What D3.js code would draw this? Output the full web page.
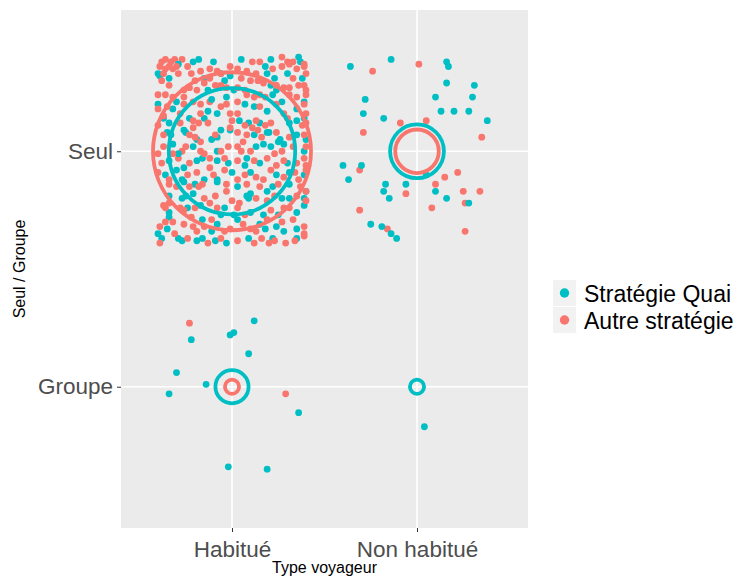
<!DOCTYPE html>
<html><head><meta charset="utf-8">
<script src="https://cdn.jsdelivr.net/npm/d3@7"></script>
<style>
html,body{margin:0;padding:0;background:#fff;}
text{font-family:"Liberation Sans",Arial,sans-serif;}
</style></head>
<body>
<svg id="chart" width="737" height="576"></svg>
<script>
// ---------- data ----------
const types = ["Habitué", "Non habitué"];          // x categories (1, 2)
const groups = ["Groupe", "Seul"];                 // y categories (1, 2)
const strategies = ["Stratégie Quai", "Autre stratégie"];

// observation counts per cell: [Habitué-Seul, Non habitué-Seul, Habitué-Groupe, Non habitué-Groupe]
const countsQuai  = [160, 29, 11, 2];
const countsAutre = [250, 19, 2, 0];

// jittered observations: [x offset, y offset] in category units around each cell centre
const quaiHabSeul = [[-0.21,0.38],[-0.18,0.39],[-0.10,0.38],[0.21,0.39],[0.36,0.40],[0.37,0.38],[-0.40,0.33],[-0.34,0.31],[-0.39,0.32],[0.18,0.36],[0.19,0.33],[-0.06,0.33],[-0.04,0.30],[-0.15,0.31],[-0.13,0.26],[-0.07,0.27],[-0.03,0.23],[0.01,0.26],[0.21,0.28],[0.22,0.24],[0.24,0.26],[0.38,0.31],[0.39,0.21],[-0.13,0.17],[-0.08,0.16],[0.07,0.20],[0.12,0.19],[0.19,0.17],[0.27,0.21],[0.35,0.18],[0.39,0.14],[-0.40,0.20],[-0.23,0.14],[-0.30,0.21],[-0.32,0.18],[0.23,0.31],[-0.01,0.32],
[-0.37,0.14],[-0.34,0.12],[-0.26,0.09],[-0.15,0.14],[-0.06,0.09],[0.09,0.12],[0.15,0.12],[0.19,0.08],[0.31,0.12],[0.35,0.13],[-0.35,0.08],[-0.33,0.07],[-0.25,0.08],[-0.19,0.05],[-0.11,0.05],[-0.08,0.06],[-0.01,0.09],[0.12,0.07],[0.20,0.08],[0.26,0.05],[0.35,0.07],[0.40,0.05],[-0.32,0.03],[-0.21,0.02],[-0.08,0.00],[0.13,0.02],[0.17,0.03],[0.21,0.02],[0.25,0.04],[0.28,0.03],[0.39,0.00],[-0.34,-0.04],[-0.26,-0.07],[-0.19,-0.04],[-0.16,-0.03],[-0.08,-0.04],[-0.02,-0.05],[0.08,-0.03],[0.15,-0.05],[0.30,-0.05],[-0.36,-0.10],[-0.30,-0.08],[-0.27,-0.12],[-0.15,-0.12],[-0.08,-0.12],[0.00,-0.09],[0.10,-0.09],[0.24,-0.10],[0.31,-0.09],[0.39,-0.10],
[-0.26,-0.13],[-0.08,-0.13],[0.03,-0.15],[0.22,-0.15],[0.31,-0.14],[0.40,-0.17],[-0.34,-0.19],[-0.27,-0.20],[-0.25,-0.19],[-0.21,-0.18],[0.08,-0.19],[0.10,-0.18],[0.09,-0.20],[0.19,-0.17],[0.27,-0.20],[0.31,-0.20],[0.39,-0.20],[-0.34,-0.26],[-0.34,-0.28],[-0.24,-0.24],[-0.17,-0.23],[-0.04,-0.24],[0.01,-0.27],[0.10,-0.26],[0.17,-0.27],[0.35,-0.26],[0.39,-0.23],[-0.16,-0.29],[-0.08,-0.31],[-0.11,-0.34],[0.03,-0.29],[0.18,-0.33],[0.24,-0.32],[0.35,-0.33],[-0.40,-0.35],[-0.38,-0.37],[-0.29,-0.37],[-0.27,-0.38],[-0.19,-0.38],[-0.16,-0.37],[-0.09,-0.38],[-0.03,-0.39],[0.09,-0.37],[0.28,-0.34],[0.35,-0.37],
[-0.29,0.37],[0.05,0.39],[0.30,0.33],[-0.11,0.22],[0.04,0.13],[-0.29,-0.01],[0.07,-0.06],[-0.20,-0.14],[0.25,-0.27],[-0.06,-0.27],[0.15,-0.31],[-0.35,-0.33],[0.22,-0.37]];

const autreHabSeul = [[-0.36,0.39],[-0.31,0.39],[-0.27,0.39],[0.11,0.38],[0.15,0.38],[0.27,0.40],[0.30,0.38],[0.33,0.38],[0.39,0.36],[-0.39,0.36],[-0.36,0.35],[-0.34,0.36],[-0.37,0.33],[-0.32,0.35],[-0.17,0.34],[-0.22,0.33],[-0.12,0.35],[-0.08,0.34],[-0.06,0.33],[-0.01,0.36],[0.03,0.35],[0.08,0.34],[0.13,0.33],[0.27,0.36],[0.31,0.37],[0.35,0.35],[0.39,0.37],[0.40,0.33],[-0.12,0.31],[-0.15,0.29],[-0.26,0.26],[-0.23,0.27],[-0.19,0.26],[-0.09,0.28],[-0.06,0.28],[0.03,0.27],[0.07,0.26],[0.10,0.30],[0.24,0.28],[0.28,0.27],[0.31,0.27],[0.36,0.28],[0.39,0.28],[0.40,0.26],[-0.40,0.24],[-0.36,0.24],[-0.32,0.23],[-0.26,0.23],[-0.21,0.21],[-0.17,0.20],[-0.12,0.21],[-0.06,0.19],[-0.03,0.20],[0.03,0.21],[0.08,0.24],[0.12,0.23],[0.15,0.24],[0.18,0.23],[0.31,0.24],[0.35,0.23],[0.40,0.24],[-0.40,0.18],[-0.35,0.19],[-0.37,0.15],[-0.26,0.20],[-0.17,0.16],[-0.01,0.16],[0.15,0.19],[0.24,0.20],[0.28,0.16],[0.39,0.20],[0.40,0.16],[-0.28,0.16],[0.03,0.16],[-0.34,0.28],[-0.29,0.33],[0.17,0.29],
[-0.40,0.11],[-0.28,0.12],[-0.21,0.13],[-0.18,0.12],[-0.13,0.12],[-0.01,0.10],[0.07,0.11],[0.11,0.10],[0.13,0.13],[0.18,0.11],[0.21,0.12],[0.30,0.14],[0.38,0.11],[0.40,0.12],[-0.37,0.07],[-0.23,0.07],[-0.20,0.06],[-0.17,0.04],[0.03,0.08],[0.08,0.07],[0.14,0.09],[0.16,0.06],[0.24,0.08],[0.31,0.06],[0.39,0.07],[-0.40,-0.01],[-0.37,0.02],[-0.27,0.00],[-0.25,0.02],[-0.17,0.00],[-0.15,-0.01],[-0.06,0.00],[-0.02,0.02],[0.03,0.02],[0.05,0.00],[0.10,0.00],[0.33,0.02],[0.40,0.02],[-0.38,-0.05],[-0.29,-0.03],[-0.23,-0.05],[-0.12,-0.03],[-0.04,-0.03],[0.03,-0.04],[0.12,-0.04],[0.19,-0.03],[0.24,-0.06],[0.28,-0.04],[0.35,-0.05],[0.39,-0.03],[0.40,-0.06],[-0.40,-0.09],[-0.34,-0.12],[-0.24,-0.10],[-0.19,-0.09],[-0.10,-0.10],[-0.04,-0.08],[0.03,-0.12],[0.07,-0.10],[0.13,-0.11],[0.17,-0.12],[0.21,-0.08],[0.28,-0.11],[0.36,-0.12],[0.40,-0.08],[-0.32,-0.01],[-0.12,-0.07],[-0.21,0.10],[0.27,0.00],
[-0.34,-0.14],[-0.23,-0.15],[-0.18,-0.15],[-0.16,-0.14],[-0.03,-0.14],[0.08,-0.14],[0.15,-0.15],[0.25,-0.14],[0.37,-0.15],[-0.15,-0.20],[-0.09,-0.19],[-0.03,-0.17],[0.04,-0.22],[0.13,-0.20],[0.23,-0.19],[0.35,-0.19],[0.40,-0.17],[-0.37,-0.23],[-0.36,-0.24],[-0.28,-0.24],[-0.26,-0.25],[-0.20,-0.24],[-0.12,-0.22],[-0.08,-0.24],[0.03,-0.24],[0.07,-0.27],[0.21,-0.25],[0.28,-0.24],[0.31,-0.24],[0.40,-0.21],[-0.39,-0.32],[-0.32,-0.30],[-0.26,-0.31],[-0.21,-0.32],[-0.15,-0.32],[-0.11,-0.29],[-0.04,-0.34],[-0.01,-0.33],[0.10,-0.33],[0.13,-0.34],[0.27,-0.30],[0.33,-0.29],[0.39,-0.32],[0.39,-0.35],[-0.39,-0.39],[-0.31,-0.35],[-0.24,-0.37],[-0.13,-0.39],[-0.06,-0.37],[0.03,-0.38],[0.12,-0.39],[0.20,-0.39],[0.23,-0.38],[0.29,-0.39],[0.39,-0.36],[-0.19,-0.34],[0.19,-0.29],[-0.34,-0.22],
[-0.38,0.38],[-0.33,0.38],[-0.30,0.36],[-0.38,0.30],[-0.24,0.36],[-0.20,0.30],[0.05,0.31],[0.14,0.30],[0.33,0.31],[0.22,0.35],[-0.03,0.27],[0.00,0.13],[-0.09,0.07],[0.06,0.04],[0.23,-0.01],[0.34,-0.09],[-0.30,-0.15],[0.19,-0.21],[0.00,-0.21],[-0.22,-0.28],[0.06,-0.31],[0.16,-0.37],[-0.36,-0.30],[0.34,-0.38]];

const quaiNonSeul = [[-0.36,0.36],[-0.14,0.39],[0.16,0.38],[0.17,0.36],[0.16,0.29],[0.31,0.28],[0.10,0.23],[0.30,0.23],[-0.28,0.22],[-0.29,0.16],[-0.18,0.14],[0.13,0.17],[0.20,0.17],[0.28,0.17],[0.38,0.13],[-0.40,-0.06],[-0.30,-0.06],[-0.37,-0.12],[-0.17,-0.14],[-0.18,-0.17],[-0.15,-0.20],[-0.06,-0.14],[0.10,-0.17],[0.28,-0.22],[0.16,-0.20],[-0.25,-0.31],[-0.19,-0.32],[-0.14,-0.35],[-0.11,-0.37],[0.05,-0.10]];
const autreNonSeul = [[-0.24,0.34],[0.01,0.37],[-0.09,0.12],[0.05,0.13],[-0.29,0.08],[0.35,0.06],[-0.31,-0.08],[-0.06,-0.18],[0.10,-0.14],[0.15,-0.11],[0.22,-0.09],[0.25,-0.17],[0.34,-0.17],[0.26,-0.22],[0.08,-0.24],[-0.31,-0.25],[-0.16,-0.33],[0.26,-0.34]];

const quaiHabGroupe = [[0.12,0.28],[0.01,0.23],[-0.01,0.22],[-0.22,0.20],[0.09,0.14],[-0.30,0.06],[-0.14,0.01],[-0.34,-0.03],[0.36,-0.11],[-0.02,-0.34],[0.19,-0.35]];
const autreHabGroupe = [[-0.23,0.27],[0.29,-0.03]];

const quaiNonGroupe = [[0.04,-0.17]];
const autreNonGroupe = [];

// ---------- layout ----------
const colQuai = "#00BFC4", colAutre = "#F8766D";
const panel = {left: 121, right: 528, top: 10, bottom: 528};

const svg = d3.select("#chart");
const x = d3.scaleLinear().domain([0.4, 2.6]).range([panel.left, panel.right]);
const y = d3.scaleLinear().domain([0.4, 2.6]).range([panel.bottom, panel.top]);
const rScale = d3.scaleSqrt().domain([0, 250]).range([0, 79]);

// cell table built from the arrays above
const cells = [
  {t: 0, g: 1, quai: quaiHabSeul,   autre: autreHabSeul,   nq: countsQuai[0], na: countsAutre[0]},
  {t: 1, g: 1, quai: quaiNonSeul,   autre: autreNonSeul,   nq: countsQuai[1], na: countsAutre[1]},
  {t: 0, g: 0, quai: quaiHabGroupe, autre: autreHabGroupe, nq: countsQuai[2], na: countsAutre[2]},
  {t: 1, g: 0, quai: quaiNonGroupe, autre: autreNonGroupe, nq: countsQuai[3], na: countsAutre[3]}
];

// panel background
svg.append("rect")
  .attr("x", panel.left).attr("y", panel.top)
  .attr("width", panel.right - panel.left).attr("height", panel.bottom - panel.top)
  .attr("fill", "#EBEBEB");

// grid lines
const grid = svg.append("g");
[1, 2].forEach(v => {
  grid.append("line").attr("x1", x(v)).attr("x2", x(v))
    .attr("y1", panel.top).attr("y2", panel.bottom)
    .attr("stroke", "#fff").attr("stroke-width", 1.6);
  grid.append("line").attr("y1", y(v)).attr("y2", y(v))
    .attr("x1", panel.left).attr("x2", panel.right)
    .attr("stroke", "#fff").attr("stroke-width", 1.6);
});

// points (interleaved so both colours mix like the original)
const pts = [];
cells.forEach(c => {
  const n = Math.max(c.quai.length, c.autre.length);
  for (let i = 0; i < n; i++) {
    if (i < c.autre.length) pts.push({cx: c.t + 1 + c.autre[i][0], cy: c.g + 1 + c.autre[i][1], col: colAutre});
    if (i < c.quai.length)  pts.push({cx: c.t + 1 + c.quai[i][0],  cy: c.g + 1 + c.quai[i][1],  col: colQuai});
  }
});
svg.append("g").selectAll("circle").data(pts).join("circle")
  .attr("cx", d => x(d.cx)).attr("cy", d => y(d.cy))
  .attr("r", 3.4).attr("fill", d => d.col);

// summary circles (area ~ count)
const rings = svg.append("g");
cells.forEach(c => {
  [[c.nq, colQuai], [c.na, colAutre]].forEach(([n, col]) => {
    if (n <= 0) return;
    rings.append("circle")
      .attr("cx", x(c.t + 1)).attr("cy", y(c.g + 1))
      .attr("r", rScale(n))
      .attr("fill", "none").attr("stroke", col).attr("stroke-width", 3.8);
  });
});

// axes
const xAxis = d3.axisBottom(x).tickValues([1, 2]).tickFormat(d => types[d - 1]).tickSize(4).tickPadding(4);
const yAxis = d3.axisLeft(y).tickValues([1, 2]).tickFormat(d => groups[d - 1]).tickSize(4).tickPadding(4);

const gx = svg.append("g").attr("transform", `translate(0,${panel.bottom})`).call(xAxis);
const gy = svg.append("g").attr("transform", `translate(${panel.left},0)`).call(yAxis);
[gx, gy].forEach(g => {
  g.select(".domain").remove();
  g.selectAll(".tick line").attr("stroke", "#333").attr("stroke-width", 1);
  g.selectAll(".tick text").attr("fill", "#4D4D4D").style("font-size", "22.5px")
    .style("font-family", "'Liberation Sans', Arial, sans-serif");
});
gx.selectAll(".tick text").attr("dy", "0.95em");

// axis titles
svg.append("text").attr("x", (panel.left + panel.right) / 2).attr("y", 573)
  .attr("text-anchor", "middle").style("font-size", "16px").attr("fill", "#000")
  .text("Type voyageur");
svg.append("text")
  .attr("transform", `translate(25,${(panel.top + panel.bottom) / 2}) rotate(-90)`)
  .attr("text-anchor", "middle").style("font-size", "16px").attr("fill", "#000")
  .text("Seul / Groupe");

// legend
const legend = svg.append("g").attr("transform", "translate(553,280)");
strategies.forEach((s, i) => {
  const g = legend.append("g").attr("transform", `translate(0,${i * 27})`);
  g.append("rect").attr("width", 23).attr("height", 26).attr("fill", "#F2F2F2");
  g.append("circle").attr("cx", 11.5).attr("cy", 13).attr("r", 4.7)
    .attr("fill", i === 0 ? colQuai : colAutre);
  g.append("text").attr("x", 31).attr("y", 22).style("font-size", "23px").attr("fill", "#000")
    .text(s);
});
</script>
</body></html>
